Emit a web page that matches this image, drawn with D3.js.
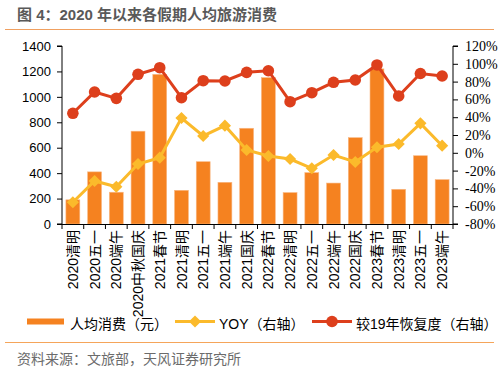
<!DOCTYPE html>
<html><head><meta charset="utf-8">
<script src="https://cdn.jsdelivr.net/npm/d3@7"></script>
<style>body{margin:0;background:#fff}svg{display:block}</style>
</head><body>
<script>
const categories = ["2020清明","2020五一","2020端午","2020中秋国庆","2021春节","2021清明","2021五一","2021端午","2021国庆","2022春节","2022清明","2022五一","2022端午","2022国庆","2023春节","2023清明","2023五一","2023端午"];
const spending = [190,410,250,730,1177,265,490,328,753,1151,247,404,322,679,1220,273,537,349];
const yoy = [-55.6,-31.7,-38.1,-12.6,-5.5,39.1,18.9,30.5,3.1,-3.6,-7,-17.4,-2.5,-10.3,6.2,9.9,33.1,8];
const recovery = [44.4,68.3,61.2,88.2,95.6,61.9,81,80.7,90.4,92.2,57.4,67.5,79.2,81.8,98.7,63.8,89.1,86.3];
const leftTicks = [0,200,400,600,800,1000,1200,1400];
const rightTicks = [-80,-60,-40,-20,0,20,40,60,80,100,120];

const W=499,H=371;
const m={l:62,r:453,t:46,b:224};
const svg=d3.select("body").append("svg").attr("width",W).attr("height",H);
const sans="'Liberation Sans','Noto Sans CJK SC',Arial,sans-serif";
const serif="'Liberation Serif','Times New Roman',serif";

svg.append("text").attr("x",17).attr("y",20).attr("font-family",sans).attr("font-size",15).attr("font-weight","bold").attr("fill","#595959").text("图 4：2020 年以来各假期人均旅游消费");
svg.append("line").attr("x1",5).attr("x2",494).attr("y1",29.5).attr("y2",29.5).attr("stroke","#F0A060").attr("stroke-width",1.2);

const x=d3.scaleBand().domain(categories).range([m.l,m.r]).paddingInner(0.36).paddingOuter(0.18);
const yL=d3.scaleLinear().domain([0,1400]).range([m.b,m.t]);
const yR=d3.scaleLinear().domain([-80,120]).range([m.b,m.t]);

// bars
svg.append("g").selectAll("rect").data(spending).join("rect")
 .attr("x",(d,i)=>x(categories[i])).attr("width",x.bandwidth())
 .attr("y",d=>yL(d)).attr("height",d=>yL(0)-yL(d))
 .attr("fill","#F58220").attr("stroke","#F9B884").attr("stroke-width",0.6);

// left axis
const gl=svg.append("g").attr("transform",`translate(${m.l},0)`).call(d3.axisLeft(yL).tickValues(leftTicks).tickSize(5).tickPadding(6).tickFormat(d3.format("d")));
gl.selectAll("text").attr("font-family",sans).attr("font-size",13).attr("fill","#000");
gl.select(".domain").attr("stroke","#000").attr("d",`M-5,${m.t}H0V${m.b}H-5`);

// right axis
const gr=svg.append("g").attr("transform",`translate(${m.r},0)`).call(d3.axisRight(yR).tickValues(rightTicks).tickSize(5).tickPadding(7).tickFormat(d=>d+"%"));
gr.selectAll("text").attr("font-family",serif).attr("font-size",14).attr("fill","#000");
gr.select(".domain").attr("stroke","#000").attr("d",`M5,${m.t}H0V${m.b}H5`);

// bottom axis
const tickPos=categories.map(c=>x(c)-x.step()*x.paddingInner()/2).concat([m.r]);
const gb=svg.append("g");
gb.append("line").attr("x1",m.l).attr("x2",m.r).attr("y1",m.b+0.5).attr("y2",m.b+0.5).attr("stroke","#000");
gb.selectAll("line.t").data(tickPos).join("line").attr("class","t")
 .attr("x1",d=>d).attr("x2",d=>d).attr("y1",m.b).attr("y2",m.b+5).attr("stroke","#000");
gb.selectAll("text").data(categories).join("text")
 .attr("transform",d=>`translate(${x(d)+x.bandwidth()/2},${m.b+6}) rotate(-90)`)
 .attr("text-anchor","end").attr("dy","0.36em")
 .attr("font-family",sans).attr("font-size",14).attr("fill","#000").text(d=>d);

// YOY line
const lineY=d3.line().x((d,i)=>x(categories[i])+x.bandwidth()/2).y(d=>yR(d));
svg.append("path").datum(yoy).attr("d",lineY).attr("fill","none").attr("stroke","#FBBA2B").attr("stroke-width",3);
svg.append("g").selectAll("path").data(yoy).join("path")
 .attr("transform",(d,i)=>`translate(${x(categories[i])+x.bandwidth()/2},${yR(d)}) rotate(45)`)
 .attr("d","M-4.3,-4.3H4.3V4.3H-4.3Z").attr("fill","#FBBA2B");

// recovery line
svg.append("path").datum(recovery).attr("d",lineY).attr("fill","none").attr("stroke","#DD3F1C").attr("stroke-width",3);
svg.append("g").selectAll("circle").data(recovery).join("circle")
 .attr("cx",(d,i)=>x(categories[i])+x.bandwidth()/2).attr("cy",d=>yR(d)).attr("r",5.8).attr("fill","#DD3F1C");

// legend
const lg=svg.append("g").attr("font-family",sans).attr("font-size",14).attr("fill","#000");
lg.append("rect").attr("x",27).attr("y",318.5).attr("width",37).attr("height",6).attr("fill","#F58220");
lg.append("text").attr("x",70).attr("y",329).text("人均消费（元）");
lg.append("line").attr("x1",175).attr("x2",215).attr("y1",321.5).attr("y2",321.5).attr("stroke","#FBBA2B").attr("stroke-width",3);
lg.append("path").attr("transform","translate(195,321.5) rotate(45)").attr("d","M-4.3,-4.3H4.3V4.3H-4.3Z").attr("fill","#FBBA2B");
lg.append("text").attr("x",219).attr("y",329).text("YOY（右轴）");
lg.append("line").attr("x1",312).attr("x2",352).attr("y1",321.5).attr("y2",321.5).attr("stroke","#DD3F1C").attr("stroke-width",3);
lg.append("circle").attr("cx",332).attr("cy",321.5).attr("r",5.8).attr("fill","#DD3F1C");
lg.append("text").attr("x",356).attr("y",329).text("较19年恢复度（右轴）");

svg.append("line").attr("x1",5).attr("x2",494).attr("y1",342.5).attr("y2",342.5).attr("stroke","#F5A55A").attr("stroke-width",1.2);
svg.append("text").attr("x",17).attr("y",364).attr("font-family",sans).attr("font-size",14).attr("fill","#6b6b6b").text("资料来源：文旅部，天风证券研究所");
</script>
</body></html>
